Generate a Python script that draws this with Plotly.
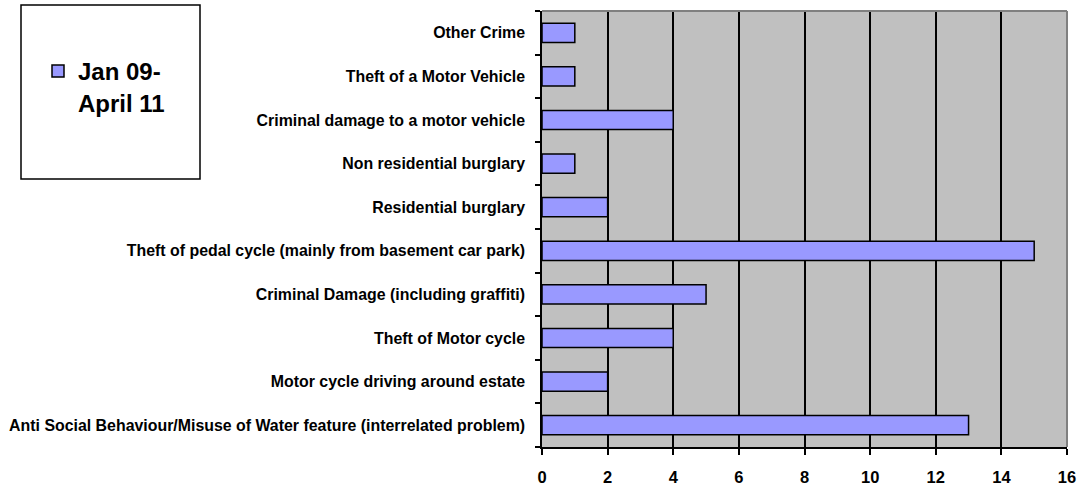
import plotly.graph_objects as go

categories = [
    "Anti Social Behaviour/Misuse of Water feature (interrelated problem)",
    "Motor cycle driving around estate",
    "Theft of Motor cycle",
    "Criminal Damage (including graffiti)",
    "Theft of pedal cycle (mainly from basement car park)",
    "Residential burglary",
    "Non residential burglary",
    "Criminal damage to a motor vehicle",
    "Theft of a Motor Vehicle",
    "Other Crime",
]
values = [13, 2, 4, 5, 15, 2, 1, 4, 1, 1]
series_name = "<b>Jan 09-<br>April 11</b>"
x_ticks = [0, 2, 4, 6, 8, 10, 12, 14, 16]

L, R, T, B = 542, 15, 11, 41
PW, PH = 1082 - L - R, 488 - T - B


def px_x(p):
    return (p - L) / PW


def px_y(p):
    return 1 - (p - T) / PH


fig = go.Figure()
fig.add_trace(go.Bar(
    x=values, y=categories, orientation="h", name=series_name,
    marker=dict(color="#9999FF", line=dict(color="black", width=1.5)),
    width=0.44, showlegend=True,
))

fig.update_layout(
    width=1082, height=488,
    margin=dict(l=L, r=R, t=T, b=B, autoexpand=False),
    paper_bgcolor="white", plot_bgcolor="#C0C0C0",
    font=dict(family="Liberation Sans, Arial", color="black"),
    showlegend=True,
    legend=dict(
        x=px_x(38), y=px_y(49),
        xanchor="left", yanchor="top", valign="top",
        font=dict(size=24, family="Liberation Sans, Arial", color="black"),
        bgcolor="rgba(0,0,0,0)", borderwidth=0,
    ),
    shapes=[
        dict(type="rect", xref="paper", yref="paper",
             x0=px_x(21), x1=px_x(200), y0=px_y(179), y1=px_y(5),
             line=dict(color="black", width=1.5), fillcolor="rgba(0,0,0,0)"),
        dict(type="line", xref="paper", yref="paper", x0=0, x1=1, y0=1, y1=1,
             line=dict(color="#808080", width=2)),
        dict(type="line", xref="paper", yref="paper", x0=1, x1=1, y0=0, y1=1,
             line=dict(color="#808080", width=2)),
    ],
)
fig.update_xaxes(
    range=[0, 16], tickvals=x_ticks, ticktext=[f"<b>{v}</b>" for v in x_ticks],
    showgrid=True, gridcolor="black", gridwidth=1.5,
    showline=True, linecolor="black", linewidth=1.5,
    ticks="outside", ticklen=6, tickwidth=1.5, tickcolor="black",
    tickfont=dict(size=16.5), zeroline=False, automargin=False,
    ticklabelstandoff=8,
)
fig.update_yaxes(
    type="category", categoryorder="array", categoryarray=categories,
    tickvals=categories, ticktext=[f"<b>{c}</b>" for c in categories],
    tickson="boundaries", showgrid=False,
    showline=True, linecolor="black", linewidth=1.5,
    ticks="outside", ticklen=5, tickwidth=1.5, tickcolor="black",
    tickfont=dict(size=15.9), range=[-0.5, 9.5], automargin=False,
    ticklabelstandoff=12,
)
fig.write_html(
    "out.html",
    config={"displayModeBar": False},
    post_script="document.body.style.margin='0';document.body.style.padding='0';",
)
